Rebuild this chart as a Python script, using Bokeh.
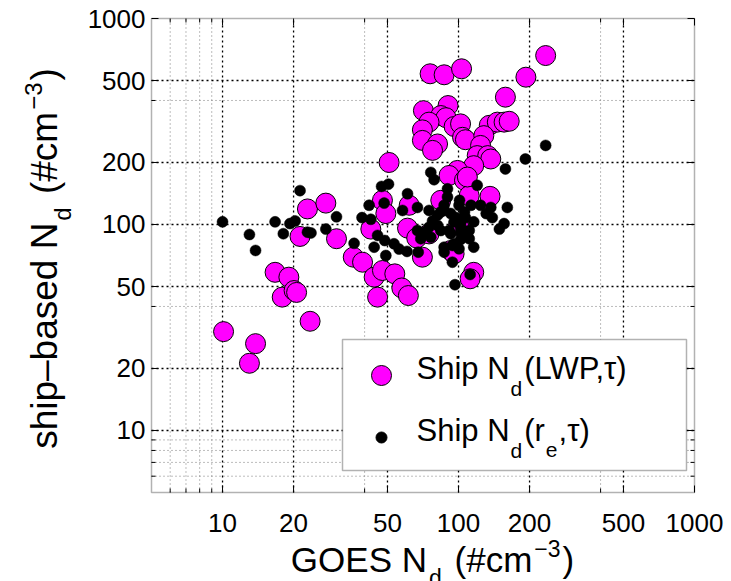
import math

from bokeh.core.properties import value
from bokeh.embed import file_html
from bokeh.models import BoxAnnotation, Label, Range1d
from bokeh.plotting import figure
from bokeh.resources import INLINE

# GOES-retrieved droplet number vs. ship-based estimates (#/cm^3)
goes_lwp = [10.1, 13.0, 13.8, 16.7, 19.1, 17.9, 20.1, 20.6, 23.5, 50.8,
            22.9, 27.4, 21.3, 30.4, 35.8, 39.2, 42.5, 47.6, 49.2, 60.8,
            61.8, 70.3, 66.5, 43.9, 47.6, 53.7, 45.4, 57.5, 61.3, 116,
            112, 75.8, 86.9, 103, 193, 234, 158, 71, 90.3, 84.1,
            88.5, 75, 70.3, 70.3, 81.5, 77.6, 95.8, 102, 104, 107,
            135, 146, 156, 164, 128, 124, 120, 133, 137, 116,
            99, 91.2, 106, 111, 136, 84.1, 109, 75, 100, 92.7,
            95.8]
ship_lwp = [30.2, 21.2, 26.4, 58.6, 55.5, 44.4, 47.8, 46.8, 33.9, 200,
            119, 127, 87.5, 85.3, 69.4, 65.6, 95, 131, 113, 96,
            124, 69.4, 86, 55.5, 59.8, 57.6, 44.4, 49.2, 45.2, 58.6,
            54.5, 539, 533, 570, 519, 661, 415, 357, 378, 338,
            330, 314, 288, 256, 246, 229, 299, 308, 265, 258,
            303, 314, 314, 317, 270, 242, 216, 216, 208, 193,
            183, 173, 164, 138, 137, 131, 170, 90, 99, 74.8,
            72.1]

goes_re = [10.0, 13.0, 13.8, 16.7, 18.1, 19.3, 20.3, 21.3, 22.9, 23.7,
           27.4, 30.4, 36.1, 39.0, 41.8, 42.5, 43.9, 45.4, 47.2, 50.5,
           48.4, 49.2, 48.7, 53.3, 56.0, 60.5, 57.9, 60.8, 67.0, 67.5,
           71.5, 69.2, 76.3, 67.0, 76.3, 78.8, 75.0, 77.6, 75.0, 81.5,
           81.5, 89.8, 89.8, 100.5, 101, 86.9, 86.9, 84.1, 92.7, 97.3,
           106, 95.8, 102, 102, 107, 111, 116, 113, 124, 131,
           137, 139, 161, 156, 149, 120, 158, 192, 234, 92.7,
           102, 109, 102, 111, 95.8, 116, 84.1, 91.2, 86.9, 94.2,
           100.5, 94.2, 96.6, 112, 86.9]
ship_re = [103, 89.4, 74.8, 103, 90.2, 101, 104, 146, 91.8, 91.0,
           95, 109, 81, 108, 124, 106, 77.6, 88.5, 153, 157,
           127, 70.7, 83.6, 80.6, 76, 74, 117, 141, 121, 73.4,
           91.8, 85.3, 86.7, 93.5, 179, 165, 117, 104, 97, 99,
           111, 149, 136, 124, 131, 124, 117, 115, 113, 108,
           115, 103, 101, 97, 108, 93.5, 103, 124, 124, 113,
           121, 108, 121, 101, 95, 155, 186, 208, 242, 90.2,
           91.8, 88.5, 84.5, 85.3, 80.6, 77.6, 93.5, 93.5, 77.6, 79.1,
           76.2, 65.6, 51, 57.2, 73.4]

tick_values = [10, 20, 50, 100, 200, 500, 1000]
tick_labels = ["10", "20", "50", "100", "200", "500", "1000"]
minor_values = [6, 7, 8, 9, 40, 400]
lo, hi = 5, 1000

FONT = "Liberation Sans"
W, H = 731, 581
# axes box edges on the canvas (pixels from the top-left corner)
BX0, BX1, BY0, BY1 = 151, 694, 18, 492
LOG_LO = math.log10(lo)
LOG_SPAN = math.log10(hi) - LOG_LO


def xd(px):
    """Canvas pixel column -> data x on the log scale."""
    return 10 ** (LOG_LO + (px - BX0) / (BX1 - BX0) * LOG_SPAN)


def yd(py):
    """Canvas pixel row -> data y on the log scale."""
    return 10 ** (LOG_LO + (BY1 - py) / (BY1 - BY0) * LOG_SPAN)


def kx(n):
    """Multiplicative step along x equal to n pixels."""
    return 10 ** (n / (BX1 - BX0) * LOG_SPAN)


def ky(n):
    return 10 ** (n / (BY1 - BY0) * LOG_SPAN)


# Liberation Sans advance widths (1/1000 em), used to chain sub/superscripts
ADV = {" ": 278, "\u00a0": 278, "(": 333, ")": 333, "#": 556, "c": 500, "m": 833,
       "G": 778, "O": 778, "E": 667, "S": 667, "N": 722, "d": 556, "s": 500,
       "h": 556, "i": 222, "p": 556, "\u2013": 556, "b": 556, "a": 556, "e": 556,
       "\u2212": 584, "3": 556, "L": 556, "W": 944, "P": 667, ",": 278,
       "\u03c4": 480, "r": 333}


def advance(txt, size):
    return sum(ADV.get(ch, 556) for ch in txt) * size / 1000.0


# The frame fills the whole canvas; the axes box is drawn inside it so that
# titles with sub/superscripts can sit anywhere on the page.
p = figure(width=W, height=H,
           x_axis_type="log", y_axis_type="log",
           x_range=Range1d(xd(0), xd(W)), y_range=Range1d(yd(H), yd(0)),
           x_axis_location=None, y_axis_location=None,
           min_border=0, output_backend="svg", toolbar_location=None)
p.outline_line_color = None
p.background_fill_color = "white"
p.border_fill_color = "white"
for g in p.grid:
    g.visible = False

# dotted grid: grey at minor positions, black at labelled positions
grid_major = [v for v in tick_values if lo < v < hi]
nm, nM = len(minor_values), len(grid_major)
p.segment(x0=minor_values, y0=[lo] * nm, x1=minor_values, y1=[hi] * nm,
          line_color="#7a7a7a", line_width=1, line_dash="1 3")
p.segment(x0=[lo] * nm, y0=minor_values, x1=[hi] * nm, y1=minor_values,
          line_color="#7a7a7a", line_width=1, line_dash="1 3")
p.segment(x0=grid_major, y0=[lo] * nM, x1=grid_major, y1=[hi] * nM,
          line_color="black", line_width=1.3, line_dash="2 3")
p.segment(x0=[lo] * nM, y0=grid_major, x1=[hi] * nM, y1=grid_major,
          line_color="black", line_width=1.3, line_dash="2 3")

MAGENTA = "#ff00ff"
p.scatter(goes_lwp, ship_lwp, size=20, fill_color=MAGENTA,
          line_color="black", line_width=1)
p.scatter(goes_re, ship_re, size=11, fill_color="black",
          line_color="black", line_width=0.5)

# inward tick marks on all four sides
for vals, n in ((tick_values, 7), (minor_values, 4)):
    m = len(vals)
    p.segment(x0=vals, y0=[lo] * m, x1=vals, y1=[lo * ky(n)] * m, line_color="black", line_width=1)
    p.segment(x0=vals, y0=[hi] * m, x1=vals, y1=[hi / ky(n)] * m, line_color="black", line_width=1)
    p.segment(x0=[lo] * m, y0=vals, x1=[lo * kx(n)] * m, y1=vals, line_color="black", line_width=1)
    p.segment(x0=[hi] * m, y0=vals, x1=[hi / kx(n)] * m, y1=vals, line_color="black", line_width=1)

# tick labels
p.text(x=tick_values, y=[yd(513)] * len(tick_values), text=tick_labels,
       text_align="center", text_baseline="top", text_color="black",
       text_font=value(FONT), text_font_size=value("26px"))
p.text(x=[xd(145)] * len(tick_values), y=tick_values, text=tick_labels,
       text_align="right", text_baseline="middle", text_color="black",
       text_font=value(FONT), text_font_size=value("26px"))

# axes box
p.add_layout(BoxAnnotation(left=lo, right=hi, bottom=lo, top=hi,
                           fill_color=None, line_color="black", line_width=1.5))

# legend
p.add_layout(BoxAnnotation(left=xd(342), right=xd(686), top=yd(339), bottom=yd(470),
                           fill_color="white", fill_alpha=1.0,
                           line_color="black", line_width=1.5))
p.scatter([xd(381)], [yd(375)], size=20, fill_color=MAGENTA,
          line_color="black", line_width=1, level="overlay")
p.scatter([xd(381)], [yd(437)], size=11, fill_color="black",
          line_color="black", level="overlay")

# Label anchors sit about a third of an em above where the glyph baseline lands
BASE_FIX = 0.34


def text_run(pieces, start, base, vertical=False):
    """pieces: (text, font px, raise px, extra gap px after)."""
    pos = start
    for txt, size, shift, gap in pieces:
        common = dict(text=txt.replace(" ", "\u00a0"), text_font=FONT,
                      text_font_size=f"{size}px", text_color="black",
                      text_align="left", text_baseline="alphabetic")
        off = base - shift - BASE_FIX * size
        if vertical:
            p.add_layout(Label(x=xd(off), y=yd(pos), angle=math.pi / 2, **common))
            pos -= advance(txt, size) + gap
        else:
            p.add_layout(Label(x=xd(pos), y=yd(off), **common))
            pos += advance(txt, size) + gap


def run_width(pieces):
    return sum(advance(t, s) + g for t, s, _, g in pieces[:-1]) + advance(pieces[-1][0], pieces[-1][1])


LEG = 31
SUB = 21
text_run([("Ship N", LEG, 0, 1), ("d", SUB, -16, 2), ("(LWP,\u03c4)", LEG, 0, 0)], 416, 379)
text_run([("Ship N", LEG, 0, 1), ("d", SUB, -16, 2), ("(r", LEG, 0, 1), ("e", SUB, -16, 1),
          (",\u03c4)", LEG, 0, 0)], 416, 441)

TX, TXS = 35, 23
x_title = [("GOES N", TX, 0, 2), ("d", TXS, -14, 3), (" (#cm", TX, 0, 2),
           ("\u22123", TXS, 15, 2), (")", TX, 0, 0)]
text_run(x_title, 432 - run_width(x_title) / 2, 571)

TY, TYS = 37, 24
y_title = [("ship\u2013based N", TY, 0, 2), ("d", TYS, -13, 3), (" (#cm", TY, 0, 2),
           ("\u22123", TYS, 16, 2), (")", TY, 0, 0)]
text_run(y_title, 258 + run_width(y_title) / 2, 57, vertical=True)

open("out.html", "w").write(file_html(p, INLINE))
